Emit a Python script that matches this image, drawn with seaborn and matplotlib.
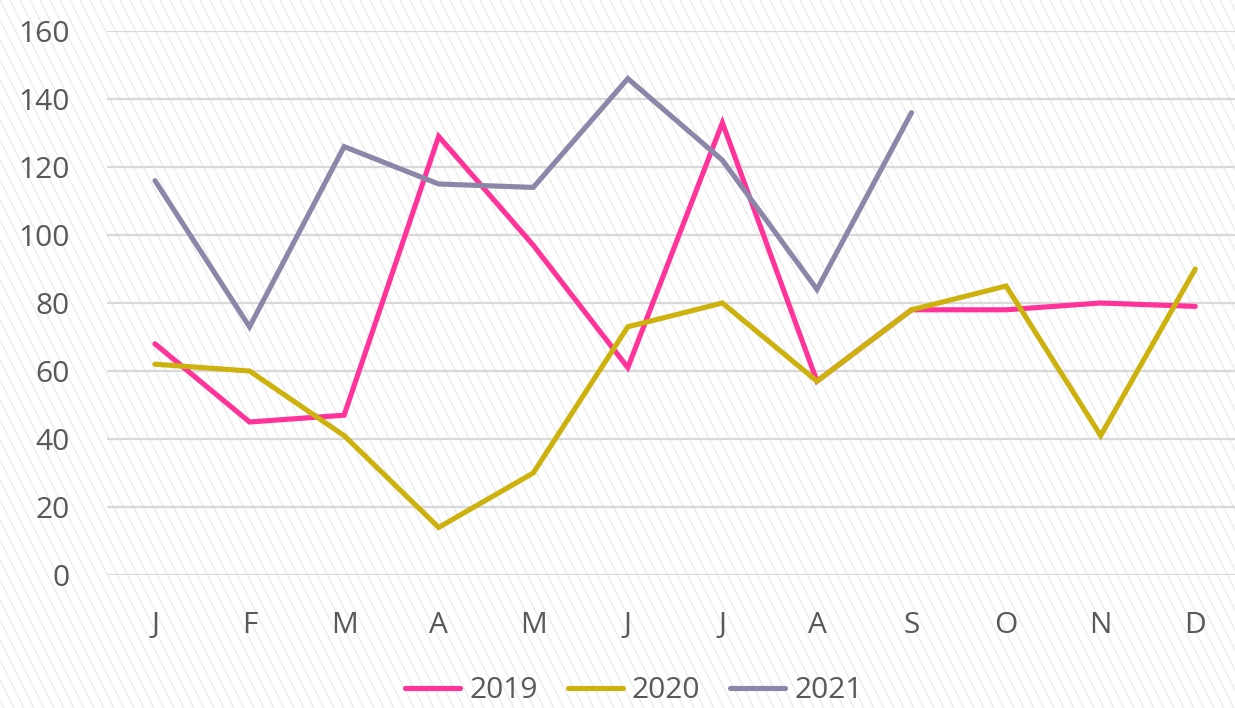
import matplotlib
matplotlib.use("Agg")
import matplotlib.pyplot as plt
from matplotlib.lines import Line2D
import numpy as np
import pandas as pd
import seaborn as sns

# data
months = ["J", "F", "M", "A", "M", "J", "J", "A", "S", "O", "N", "D"]
y2019 = [68, 45, 47, 129, 97, 61, 133, 57, 78, 78, 80, 79]
y2020 = [62, 60, 41, 14, 30, 73, 80, 57, 78, 85, 41, 90]
y2021 = [116, 73, 126, 115, 114, 146, 122, 84, 136]
years = ["2019", "2020", "2021"]

pink = "#FF3399"
olive = "#CDB20E"
lilac = "#8C87A8"
txt = "#595959"

sns.set_style("white")
plt.rcParams['font.family'] = ['Open Sans', 'DejaVu Sans']

rows = []
for yr, vals in zip(years, [y2019, y2020, y2021]):
    for i, v in enumerate(vals):
        rows.append({"idx": i, "value": v, "year": yr})
df = pd.DataFrame(rows)

fig = plt.figure(figsize=(12.35, 7.08), dpi=100)
fig.patch.set_facecolor("white")

# striped background
bg = fig.add_axes([0, 0, 1, 1], zorder=-5)
bg.set_xlim(0, 1235)
bg.set_ylim(0, 708)
for x0 in np.arange(-400, 1240, 10):
    bg.plot([x0, x0 + 354], [708, 0], color="#EAEAEA", lw=0.9, solid_capstyle="butt")
bg.axis("off")

ax = fig.add_axes([107 / 1235, 1 - 575 / 708, 1 - 107 / 1235, (575 - 31) / 708])
ax.set_facecolor("none")
sns.lineplot(data=df, x="idx", y="value", hue="year",
             palette=[pink, olive, lilac], linewidth=3.7, ax=ax,
             legend=False, clip_on=False)
for ln in ax.get_lines():
    ln.set_solid_capstyle("round")
    ln.set_solid_joinstyle("miter")

ax.set_ylim(0, 160)
ax.set_xlim(-0.507, 11.42)
ax.set_yticks(range(0, 161, 20))
ax.set_xticks(range(12))
ax.set_xticklabels(months)
ax.yaxis.grid(True, color="#D9D9D9", lw=1.6)
ax.set_axisbelow(True)
ax.tick_params(axis="both", length=0, labelsize=21.5, labelcolor=txt)
ax.tick_params(axis="y", pad=27)
ax.tick_params(axis="x", pad=26)
ax.set_xlabel("")
ax.set_ylabel("")
for s in ax.spines.values():
    s.set_visible(False)

handles = [Line2D([0], [0], color=c, lw=3.7, solid_capstyle="round") for c in [pink, olive, lilac]]
fig.legend(handles, years, loc="center", bbox_to_anchor=(634 / 1235, 1 - 691 / 708),
           ncol=3, frameon=False, fontsize=21.5, labelcolor=txt,
           handlelength=1.85, handletextpad=0.3, columnspacing=1.0)

fig.savefig("out.png", dpi=100)
